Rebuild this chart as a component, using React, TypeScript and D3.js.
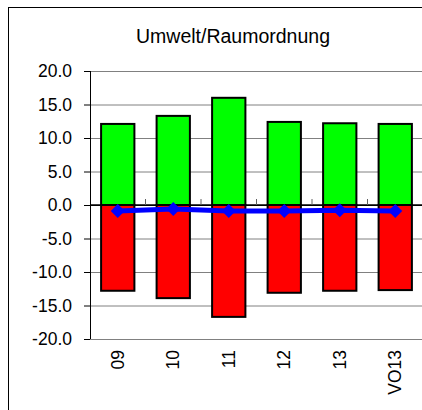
import React from "react";
import * as d3 from "d3";

const categories = ["09", "10", "11", "12", "13", "VO13"];
const positives = [12.1, 13.3, 16.0, 12.4, 12.2, 12.1];
const negatives = [-12.8, -13.9, -16.7, -13.1, -12.8, -12.7];
const balance = [-0.9, -0.6, -0.9, -0.9, -0.8, -0.9];
const yTicks = [20, 15, 10, 5, 0, -5, -10, -15, -20];

const App = () => {
  const width = 422;
  const height = 410;
  const margin = { top: 71, left: 90 };
  const plotH = 268;
  const band = 55.5;

  const x = d3
    .scaleBand()
    .domain(categories)
    .range([margin.left, margin.left + band * categories.length])
    .paddingInner(0.4)
    .paddingOuter(0.2);
  const xc = (c) => (x(c) ?? 0) + x.bandwidth() / 2;

  const y = d3
    .scaleLinear()
    .domain([-20, 20])
    .range([margin.top + plotH, margin.top]);

  const line = d3
    .line()
    .x((d, i) => xc(categories[i]))
    .y((d) => y(d));

  const font = "'Liberation Sans', Arial, sans-serif";
  const bandEdges = categories.slice(1).map((c) => (x(c) ?? 0) - (x.step() * x.paddingInner()) / 2);

  return (
    <svg width={width} height={height} style={{ position: "absolute", left: 0, top: 0 }}>
      <rect x={0} y={0} width={width} height={height} fill="#fff" />
      <rect x={8.5} y={7.5} width={width} height={height} fill="none" stroke="#000" strokeWidth={1} />
      <text x={233} y={43} textAnchor="middle" fontFamily={font} fontSize={19.5} fill="#000">
        Umwelt/Raumordnung
      </text>
      {yTicks.map((t) => (
        <g key={t}>
          <line
            x1={margin.left}
            x2={width}
            y1={y(t) + 0.5}
            y2={y(t) + 0.5}
            stroke={t === 0 ? "#000" : "#808080"}
            strokeWidth={1}
          />
          <line x1={margin.left - 6} x2={margin.left} y1={y(t) + 0.5} y2={y(t) + 0.5} stroke="#000" />
          <text
            x={72}
            y={y(t) + 6}
            textAnchor="end"
            fontFamily={font}
            fontSize={17.5}
            fill="#000"
          >
            {t.toFixed(1)}
          </text>
        </g>
      ))}
      {categories.map((c, i) => (
        <g key={c}>
          <rect
            x={x(c)}
            y={y(positives[i])}
            width={x.bandwidth()}
            height={y(0) - y(positives[i])}
            fill="#00ff00"
            stroke="#000"
            strokeWidth={2}
          />
          <rect
            x={x(c)}
            y={y(0)}
            width={x.bandwidth()}
            height={y(negatives[i]) - y(0)}
            fill="#ff0000"
            stroke="#000"
            strokeWidth={2}
          />
        </g>
      ))}
      <line x1={margin.left} x2={width} y1={y(0)} y2={y(0)} stroke="#000" strokeWidth={1.5} />
      {bandEdges.map((e, i) => (
        <line key={i} x1={e} x2={e} y1={y(0) - 6} y2={y(0)} stroke="#606060" />
      ))}
      <line x1={margin.left + 0.5} x2={margin.left + 0.5} y1={y(20)} y2={y(-20)} stroke="#000" />
      <path d={line(balance) ?? ""} fill="none" stroke="#0000ff" strokeWidth={5} />
      {balance.map((v, i) => (
        <path
          key={i}
          transform={`translate(${xc(categories[i])},${y(v)})`}
          d="M0,-7 L7,0 L0,7 L-7,0 Z"
          fill="#0000ff"
        />
      ))}
      {categories.map((c) => (
        <text
          key={c}
          transform={`translate(${xc(c) + 6},350) rotate(-90)`}
          textAnchor="end"
          fontFamily={font}
          fontSize={17.5}
          fill="#000"
        >
          {c}
        </text>
      ))}
    </svg>
  );
};

export default App;
